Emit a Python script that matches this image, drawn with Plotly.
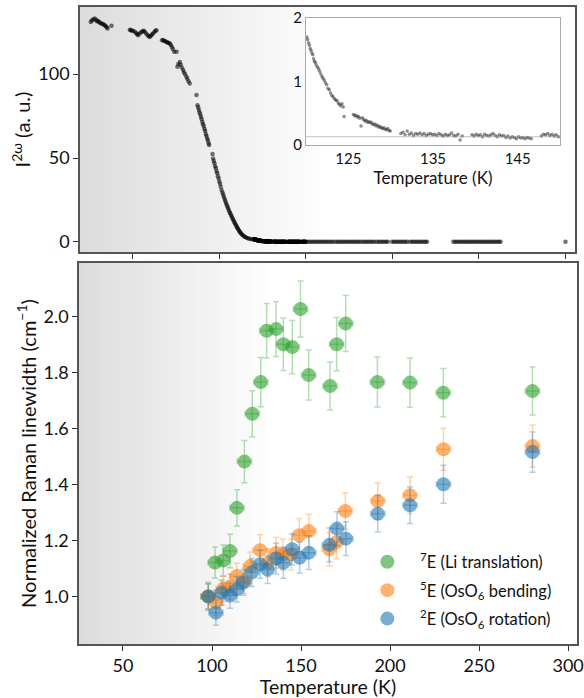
import plotly.graph_objects as go

# ---------------- top panel: SHG intensity vs temperature ----------------
seg_a_T = [25.7, 26.3, 27.0, 28.0, 28.6, 29.2, 29.9, 30.5, 31.2, 31.9, 32.5, 33.2, 33.8, 34.4, 35.0, 35.4, 37.7]
seg_a_V = [131.1, 132.0, 132.6, 133.2, 132.4, 131.5, 131.8, 130.9, 130.6, 130.2, 129.9, 129.6, 129.2, 128.6, 127.9, 127.2, 128.8]

seg_b_T = [48.3, 48.8, 49.5, 50.2, 51.2, 52.0, 52.6, 53.1, 54.0, 54.8, 55.6, 56.3, 56.9, 57.7, 58.5, 59.2, 59.8, 60.5, 61.1, 61.7, 62.5, 63.1, 63.7]
seg_b_V = [126.4, 126.2, 126.0, 125.7, 125.2, 124.4, 123.7, 123.2, 124.2, 125.0, 125.6, 125.9, 125.2, 124.2, 123.4, 122.6, 122.2, 122.9, 123.6, 124.2, 125.1, 125.8, 126.2]

seg_c_T = [66.9, 67.5, 68.2, 68.8, 69.5, 70.1, 70.8, 71.4, 72.0, 72.6, 73.2, 73.9, 75.3]
seg_c_V = [120.2, 120.4, 119.8, 119.6, 119.2, 118.9, 118.6, 118.3, 117.3, 116.2, 115.0, 113.3, 113.3]

seg_d_T = [75.8, 76.3, 77.2, 77.7, 78.3, 79.1, 79.6, 80.2, 81.0, 81.5, 82.2, 82.9]
seg_d_V = [104.4, 106.0, 107.3, 105.6, 104.0, 102.4, 101.2, 99.9, 98.4, 97.2, 95.8, 94.4]

seg_e_T = [86.8, 87.4, 87.8, 88.2, 88.6, 89.0, 89.4, 89.8, 90.2, 90.6, 91.0, 91.4, 91.8, 92.2, 92.6, 93.0, 93.4, 93.8, 94.1, 96.1]
seg_e_V = [87.5, 81.5, 80.1, 78.7, 77.2, 75.9, 74.4, 73.1, 71.5, 70.2, 68.9, 67.3, 66.1, 64.4, 63.2, 61.7, 60.4, 58.8, 57.7, 52.4]

seg_g_T = [96.4, 96.8, 97.2, 97.6, 98.0, 98.4, 98.8, 99.2, 99.6, 100.0, 100.4, 100.8, 101.3]
seg_g_V = [49.8, 48.2, 46.9, 45.1, 43.9, 42.1, 40.9, 39.1, 37.8, 36.0, 34.7, 32.9, 31.0]

seg_h_T = [101.8, 102.2, 102.6, 103.0, 103.4, 103.8, 104.2, 104.6, 105.0, 105.4, 105.8, 106.2, 106.6,
           107.0, 107.4, 107.8, 108.2, 108.6, 109.0, 109.4, 109.8, 110.2, 110.6, 111.0, 111.4, 111.8,
           112.2, 112.7, 113.2, 113.8, 114.4, 115.0, 115.7, 116.5, 117.3, 118.2, 119.2]
seg_h_V = [29.5, 28.3, 27.0, 25.8, 24.6, 23.4, 22.3, 21.2, 20.2, 19.2, 18.2, 17.2, 16.3,
           15.4, 14.5, 13.6, 12.8, 12.0, 11.2, 10.4, 9.6, 8.8, 8.1, 7.4, 6.7, 6.1,
           5.5, 4.9, 4.3, 3.8, 3.3, 2.9, 2.5, 2.2, 1.9, 1.7, 1.5]

# inset (zoom 120-150 K), also drawn in the main panel
inset_T = [120.1, 120.2, 120.3, 120.4, 120.5, 120.6, 120.7, 120.8, 120.9, 121.0, 121.1, 121.2, 121.35, 121.5,
           121.6, 121.75, 121.9, 122.0, 122.15, 122.3, 122.45, 122.6, 122.75, 122.9, 123.05, 123.2, 123.35,
           123.5, 123.65, 123.8, 123.95, 124.1, 124.25, 124.4, 124.5,
           125.6, 125.75, 125.9, 126.05, 126.2, 126.35, 126.5, 126.65, 126.8, 126.95, 127.1, 127.25, 127.4,
           127.55, 127.7, 127.85, 128.0, 128.15, 128.3, 128.45, 128.6, 128.75, 128.9, 129.05, 129.2, 129.35,
           129.5, 129.65, 129.8, 129.95,
           131.2, 131.45, 131.7, 131.95, 132.2, 132.45, 132.7, 132.95, 133.2, 133.45, 133.7, 133.95, 134.2,
           134.45, 134.7, 134.95, 135.2, 135.45, 135.7, 135.95, 136.2, 136.45, 136.7, 136.95, 137.2, 137.45,
           137.7, 137.95, 138.2, 138.45,
           139.6, 139.85, 140.1, 140.35, 140.6, 140.85, 141.1, 141.35, 141.6, 141.85, 142.1, 142.35, 142.6,
           142.85, 143.1, 143.35, 143.6, 143.85, 144.1, 144.35, 144.6, 144.85, 145.1, 145.35, 145.6, 145.85,
           146.1, 146.35, 146.6,
           147.8, 148.05, 148.3, 148.55, 148.8, 149.05, 149.3, 149.55, 149.8]
inset_V = [1.70, 1.66, 1.61, 1.57, 1.52, 1.49, 1.45, 1.42, 1.36, 1.32, 1.30, 1.26, 1.23, 1.20,
           1.16, 1.12, 1.08, 1.05, 1.02, 0.98, 0.95, 0.89, 0.87, 0.82, 0.78, 0.76, 0.73,
           0.71, 0.70, 0.66, 0.64, 0.62, 0.65, 0.60, 0.45,
           0.48, 0.46, 0.47, 0.44, 0.45, 0.42, 0.30, 0.43, 0.40, 0.38, 0.39, 0.36, 0.37,
           0.35, 0.36, 0.33, 0.32, 0.33, 0.30, 0.31, 0.28, 0.29, 0.27, 0.26, 0.27, 0.25,
           0.24, 0.26, 0.23, 0.22,
           0.18, 0.20, 0.16, 0.22, 0.17, 0.19, 0.15, 0.18, 0.17, 0.19, 0.16, 0.18, 0.15,
           0.17, 0.18, 0.16, 0.17, 0.15, 0.18, 0.16, 0.14, 0.17, 0.15, 0.16, 0.19, 0.15,
           0.14, 0.17, 0.08, 0.14,
           0.16, 0.14, 0.17, 0.15, 0.16, 0.13, 0.17, 0.15, 0.14, 0.16, 0.18, 0.15, 0.13,
           0.16, 0.14, 0.15, 0.12, 0.14, 0.11, 0.13, 0.12, 0.10, 0.13, 0.11, 0.12, 0.10,
           0.12, 0.11, 0.10,
           0.14, 0.17, 0.16, 0.18, 0.15, 0.17, 0.14, 0.16, 0.13]

flat_T = [150.5, 151.6, 152.7, 153.8, 154.9, 156.0, 157.1, 158.2, 159.3, 160.4, 161.5, 162.6, 163.7, 164.8,
          165.9, 167.3, 168.4, 169.5, 170.6, 171.7, 172.8, 173.9, 175.0, 176.1, 177.2, 178.3, 179.4, 180.5,
          181.6, 182.9, 184.0, 185.1, 186.2, 187.3, 188.4, 189.5, 190.9, 192.0, 193.1, 194.2, 195.3, 196.4,
          197.4, 199.8, 200.9, 202.0, 203.1, 204.2, 205.3, 206.4, 207.5, 208.6, 210.3, 211.4, 212.5, 213.6,
          214.7, 215.8, 216.9, 218.0, 219.1, 220.0,
          235.2, 236.3, 237.4, 238.5, 239.6, 240.7, 241.8, 242.9, 244.0, 245.1, 246.2, 247.3, 248.4, 249.5,
          250.6, 251.7, 252.8, 253.9, 255.0, 256.1, 257.2, 258.3, 259.4, 260.5, 261.6, 262.5,
          300.0]
flat_V = [0.15, 0.14, 0.16, 0.13, 0.15, 0.17, 0.14, 0.15, 0.13, 0.16, 0.14, 0.15, 0.12, 0.16,
          0.14, 0.15, 0.13, 0.14, 0.16, 0.15, 0.13, 0.14, 0.15, 0.12, 0.14, 0.16, 0.13, 0.15,
          0.14, 0.13, 0.15, 0.14, 0.16, 0.13, 0.14, 0.15, 0.12, 0.14, 0.15, 0.13, 0.16, 0.14,
          0.15, 0.13, 0.14, 0.15, 0.12, 0.14, 0.13, 0.15, 0.14, 0.16, 0.13, 0.14, 0.15, 0.12,
          0.14, 0.13, 0.15, 0.14, 0.13, 0.15,
          0.14, 0.13, 0.15, 0.12, 0.14, 0.16, 0.13, 0.14, 0.15, 0.12, 0.14, 0.13, 0.15, 0.14,
          0.12, 0.13, 0.15, 0.14, 0.12, 0.13, 0.14, 0.15, 0.13, 0.12, 0.14, 0.13,
          0.10]

inset_baseline = 0.13

main_T = seg_a_T + seg_b_T + seg_c_T + seg_d_T + seg_e_T + seg_g_T + seg_h_T + inset_T + flat_T
main_V = seg_a_V + seg_b_V + seg_c_V + seg_d_V + seg_e_V + seg_g_V + seg_h_V + inset_V + flat_V

# ---------------- bottom panel: normalized Raman linewidths ----------------
green_T = [97.9, 101.7, 106.3, 110.1, 114.0, 118.2, 122.6, 127.4, 130.7, 136.0, 140.1, 145.1, 149.7,
           154.3, 166.3, 170.0, 175.1, 192.9, 211.2, 229.9, 280.0]
green_V = [1.000, 1.121, 1.128, 1.162, 1.316, 1.481, 1.652, 1.765, 1.948, 1.954, 1.900, 1.890, 2.026,
           1.790, 1.751, 1.900, 1.974, 1.765, 1.763, 1.727, 1.733]
green_E = [0.05, 0.055, 0.055, 0.06, 0.065, 0.075, 0.082, 0.088, 0.097, 0.098, 0.094, 0.095, 0.10,
           0.089, 0.086, 0.095, 0.10, 0.089, 0.088, 0.086, 0.086]

orange_T = [97.9, 102.2, 106.3, 110.1, 113.9, 118.0, 121.5, 127.0, 131.4, 136.0, 139.8, 144.5, 149.0,
            154.4, 165.9, 170.0, 174.9, 193.1, 211.2, 230.0, 280.0]
orange_V = [1.000, 0.978, 1.027, 1.035, 1.073, 1.055, 1.108, 1.165, 1.120, 1.155, 1.150, 1.150, 1.218,
            1.233, 1.168, 1.194, 1.305, 1.340, 1.361, 1.525, 1.537]
orange_E = [0.045, 0.045, 0.045, 0.045, 0.045, 0.045, 0.05, 0.055, 0.05, 0.055, 0.055, 0.055, 0.06,
            0.06, 0.06, 0.06, 0.065, 0.065, 0.065, 0.075, 0.075]

blue_T = [97.9, 102.2, 105.4, 110.1, 113.9, 117.6, 122.3, 127.0, 131.2, 136.0, 140.1, 145.0, 149.2,
          154.4, 165.9, 170.2, 175.2, 193.1, 211.2, 230.0, 280.0]
blue_V = [1.000, 0.942, 1.013, 1.003, 1.025, 1.049, 1.085, 1.115, 1.096, 1.135, 1.120, 1.168, 1.138,
          1.156, 1.184, 1.242, 1.206, 1.295, 1.325, 1.400, 1.515]
blue_E = [0.045, 0.045, 0.045, 0.045, 0.045, 0.045, 0.05, 0.05, 0.05, 0.055, 0.055, 0.055, 0.055,
          0.06, 0.06, 0.06, 0.06, 0.065, 0.065, 0.068, 0.072]

temp_err = 4.0

names = ["&nbsp;&nbsp;&nbsp;<sup>7</sup>E (Li translation)",
         "&nbsp;&nbsp;&nbsp;<sup>5</sup>E (OsO<sub>6</sub> bending)",
         "&nbsp;&nbsp;&nbsp;<sup>2</sup>E (OsO<sub>6</sub> rotation)"]

FONT = "Lato, 'Open Sans', sans-serif"
AXC = "#555555"

fig = go.Figure()

# decorative gradient shading (grey on the cold side fading to white)
def gradient_trace(xa, ya, t0, t1, y0, y1, n=48, g0=220):
    edges = [t0 + (t1 - t0) * i / n for i in range(n + 1)]
    levels = [(i + 0.5) / n for i in range(n)]
    return go.Heatmap(x=edges, y=[y0, y1], z=[levels], xaxis=xa, yaxis=ya, zmin=0, zmax=1,
                      colorscale=[[0, f"rgb({g0},{g0},{g0})"], [1, "rgb(255,255,255)"]],
                      showscale=False, hoverinfo="skip")

fig.add_trace(gradient_trace("x", "y", 19.5, 165, -6, 140))
fig.add_trace(gradient_trace("x3", "y3", 25.3, 135, 0.83, 2.19))

fig.add_trace(go.Scatter(x=main_T, y=main_V, mode="markers", xaxis="x", yaxis="y",
                         marker=dict(color="rgba(0,0,0,0.55)", size=4.5, line=dict(width=0)),
                         showlegend=False, hoverinfo="skip"))
fig.add_trace(go.Scatter(x=inset_T, y=inset_V, mode="markers", xaxis="x2", yaxis="y2",
                         marker=dict(color="rgba(50,50,50,0.55)", size=3.5, line=dict(width=0)),
                         showlegend=False, hoverinfo="skip"))

series = [(green_T, green_V, green_E, (44, 160, 44)),
          (orange_T, orange_V, orange_E, (255, 127, 14)),
          (blue_T, blue_V, blue_E, (31, 119, 180))]
for k, ((tx, vy, ey, c), nm) in enumerate(zip(series, names)):
    r, g, b = c
    fig.add_trace(go.Scatter(
        x=tx, y=vy, mode="markers", xaxis="x3", yaxis="y3", name=nm, legendgroup=f"g{k}",
        marker=dict(color=f"rgba({r},{g},{b},0.6)", size=14, line=dict(width=0)),
        error_y=dict(type="data", array=ey, color=f"rgba({r},{g},{b},0.35)", thickness=1.5, width=3),
        error_x=dict(type="constant", value=temp_err, color=f"rgba({r},{g},{b},0.35)", thickness=1.5, width=3),
    ))

shapes = [dict(type="line", xref="x2 domain", yref="y2", x0=0, x1=1, y0=inset_baseline, y1=inset_baseline,
               line=dict(color="rgba(150,150,150,0.6)", width=1))]

tickfont = dict(family=FONT, size=18, color="#111")
common = dict(showgrid=False, zeroline=False, showline=True, linecolor=AXC, linewidth=1.5, mirror=True,
              ticks="outside", ticklen=5, tickwidth=1.3, tickcolor="#333", tickfont=tickfont, automargin=False)
inset_common = dict(showgrid=False, zeroline=False, showline=True, linecolor="#aaaaaa", linewidth=1, mirror=True,
                    ticks="", tickfont=dict(family=FONT, size=15, color="#111"), automargin=False)

fig.update_layout(
    width=584, height=698,
    margin=dict(l=79, r=7, t=6, b=54, autoexpand=False),
    paper_bgcolor="white", plot_bgcolor="white",
    font=dict(family=FONT, color="#111"),
    shapes=shapes,
    xaxis=dict(domain=[0.002, 0.996], anchor="y", range=[19.5, 305.5],
               tickvals=[50, 100, 150, 200, 250, 300], showticklabels=False, **common),
    yaxis=dict(domain=[0.6144, 0.9984], anchor="x", range=[-6, 140], tickvals=[0, 50, 100],
               title=dict(text="I<sup>2ω</sup> (a. u.)", font=dict(family=FONT, size=20), standoff=2), **common),
    xaxis2=dict(domain=[0.4558, 0.9659], anchor="y2", range=[120, 150], tickvals=[125, 135, 145],
                title=dict(text="Temperature (K)", font=dict(family=FONT, size=17), standoff=2), **inset_common),
    yaxis2=dict(domain=[0.7821, 0.9812], anchor="x2", range=[0, 2], tickvals=[0, 1, 2], **inset_common),
    xaxis3=dict(domain=[0, 1], anchor="y3", range=[25.3, 305], tickvals=[50, 100, 150, 200, 250, 300],
                title=dict(text="Temperature (K)", font=dict(family=FONT, size=19.5), standoff=3), **common),
    yaxis3=dict(domain=[0, 0.5972], anchor="x3", range=[0.83, 2.19],
                tickvals=[1.0, 1.2, 1.4, 1.6, 1.8, 2.0], ticktext=["1.0", "1.2", "1.4", "1.6", "1.8", "2.0"],
                title=dict(text="Normalized Raman linewidth (cm<sup>−1</sup>)", font=dict(family=FONT, size=20), standoff=2),
                **common),
    legend=dict(x=0.579, y=0.156, xanchor="left", yanchor="top", bgcolor="rgba(0,0,0,0)",
                font=dict(family=FONT, size=16.5, color="#111"), tracegroupgap=4),
)

fig.write_html("out.html", config={"displayModeBar": False},
               post_script="document.body.style.margin='0px';")
